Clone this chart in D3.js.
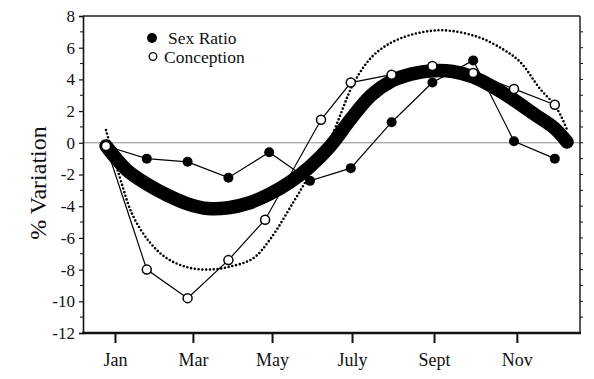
<!DOCTYPE html>
<html><head><meta charset="utf-8">
<script src="https://cdn.jsdelivr.net/npm/d3@7"></script>
<style>
html,body{margin:0;padding:0;background:#fff;}
svg{display:block;}
text{font-family:"Liberation Serif","Times New Roman",serif;fill:#111;}
</style></head>
<body>
<svg id="chart" width="594" height="379"></svg>
<script>
// ---- data ----
const months = [0,1,2,3,4,5,6,7,8,9,10,11];
const sexRatio = [-0.2,-1.0,-1.2,-2.2,-0.6,-2.4,-1.6,1.3,3.8,5.2,0.1,-1.0];
const conceptionMonths = [0,1,2,3,3.9,5.27,6,7,8,9,10,11];
const conception = [-0.2,-8.0,-9.8,-7.4,-4.85,1.45,3.8,4.3,4.85,4.4,3.4,2.4];
const fitMonths = [0,0.5,1,1.5,2,2.5,3,3.5,4,4.5,5,5.5,6,6.5,7,7.5,8,8.5,9,9.5,10,10.5,11,11.3];
const fitSexRatio = [-0.2,-1.7,-2.6,-3.3,-3.85,-4.15,-4.1,-3.8,-3.25,-2.5,-1.5,-0.2,1.5,3.0,3.9,4.35,4.55,4.5,4.15,3.5,2.7,1.8,0.9,0.05];
const fitConcMonths = [0,0.34,0.66,1.08,1.5,1.99,2.48,2.97,3.6,4.02,4.58,4.88,5.49,6.1,6.59,7.23,8.19,9.09,9.73,10.15,10.64,10.96,11.13,11.32];
const fitConception = [0.8,-2.2,-4.6,-6.3,-7.3,-7.85,-8.0,-7.85,-7.3,-6.1,-3.8,-2.5,0.2,3.9,5.6,6.6,7.1,6.7,5.9,5.1,3.4,2.5,1.8,0.7];
const tickMonths = [0.22,2.13,4.07,6.03,8.04,10.07];
const tickLabels = ["Jan","Mar","May","July","Sept","Nov"];
const yTicks = [8,6,4,2,0,-2,-4,-6,-8,-10,-12];
const legendLabels = ["Sex Ratio","Conception"];

// ---- layout ----
const L = 83, R = 580, T = 16, B = 333;
const svg = d3.select("#chart");
const x = d3.scaleLinear().domain([0,11]).range([106, 554.8]);
const y = d3.scaleLinear().domain([-12,8]).range([B, T]);

// zero line
svg.append("line").attr("x1",L).attr("x2",R).attr("y1",y(0)).attr("y2",y(0))
  .attr("stroke","#8a8a8a").attr("stroke-width",1);

// frame top & right
svg.append("line").attr("x1",L).attr("x2",R).attr("y1",T).attr("y2",T).attr("stroke","#222").attr("stroke-width",1.5);
svg.append("line").attr("x1",R).attr("x2",R).attr("y1",T).attr("y2",B).attr("stroke","#222").attr("stroke-width",1.5);

// left axis
const yAxis = d3.axisLeft(y).tickValues(yTicks).tickSize(4).tickPadding(4)
  .tickFormat(d => d < 0 ? "-" + Math.abs(d) : String(d));
const gy = svg.append("g").attr("transform",`translate(${L},0)`).call(yAxis);
gy.select(".domain").attr("stroke","#111").attr("stroke-width",1.6);
gy.selectAll(".tick line").attr("stroke","#111").attr("stroke-width",1.2);
gy.selectAll(".tick text").attr("font-size",17).attr("font-family","Liberation Serif, Times New Roman, serif").attr("fill","#111");
// minor ticks left
const minor = d3.range(-11,8,2);
svg.append("g").selectAll("line").data(minor).join("line")
  .attr("x1",L-3).attr("x2",L).attr("y1",d=>y(d)).attr("y2",d=>y(d)).attr("stroke","#111").attr("stroke-width",1);
// right ticks every unit
svg.append("g").selectAll("line").data(d3.range(-11,8,1)).join("line")
  .attr("x1",R).attr("x2",R+3).attr("y1",d=>y(d)).attr("y2",d=>y(d)).attr("stroke","#111").attr("stroke-width",1);

// bottom axis
const xAxis = d3.axisBottom(x).tickValues(tickMonths).tickSize(10).tickPadding(10)
  .tickFormat((d,i)=>tickLabels[i]);
const gx = svg.append("g").attr("transform",`translate(0,${B})`).call(xAxis);
gx.select(".domain").remove();
svg.append("line").attr("x1",L-1).attr("x2",R+1).attr("y1",B).attr("y2",B).attr("stroke","#111").attr("stroke-width",2.4);
gx.selectAll(".tick line").attr("stroke","#111").attr("stroke-width",2);
gx.selectAll(".tick text").attr("font-size",18).attr("font-family","Liberation Serif, Times New Roman, serif").attr("fill","#111");

// y title
svg.append("text").attr("transform","translate(46,183) rotate(-90)")
  .attr("text-anchor","middle").attr("font-size",24).text("% Variation");

// thick fitted sex ratio curve
const thick = d3.line().x(d=>x(d[0])).y(d=>y(d[1])).curve(d3.curveCatmullRom.alpha(0.5));
svg.append("path").attr("d",thick(fitMonths.map((m,i)=>[m,fitSexRatio[i]])))
  .attr("fill","none").attr("stroke","#000").attr("stroke-width",13.5).attr("stroke-linecap","round");

// dotted fitted conception curve
svg.append("path").attr("d",thick(fitConcMonths.map((m,i)=>[m,fitConception[i]])))
  .attr("fill","none").attr("stroke","#000").attr("stroke-width",2.6)
  .attr("stroke-dasharray","0,3.8").attr("stroke-linecap","round");

// data lines
const ln = d3.line().x(d=>x(d[0])).y(d=>y(d[1]));
const srData = months.map((m,i)=>[m,sexRatio[i]]);
const cData = conceptionMonths.map((m,i)=>[m,conception[i]]);
svg.append("path").attr("d",ln(srData)).attr("fill","none").attr("stroke","#000").attr("stroke-width",1.2);
svg.append("path").attr("d",ln(cData)).attr("fill","none").attr("stroke","#000").attr("stroke-width",1.2);

// markers
svg.append("g").selectAll("circle").data(srData).join("circle")
  .attr("cx",d=>x(d[0])).attr("cy",d=>y(d[1])).attr("r",5).attr("fill","#000");
svg.append("g").selectAll("circle").data(cData).join("circle")
  .attr("cx",d=>x(d[0])).attr("cy",d=>y(d[1])).attr("r",4.5).attr("fill","#fff")
  .attr("stroke","#000").attr("stroke-width",1.5);

// legend
svg.append("circle").attr("cx",152).attr("cy",38).attr("r",5).attr("fill","#000");
svg.append("text").attr("x",168).attr("y",43.5).attr("font-size",17.5).text(legendLabels[0]);
svg.append("circle").attr("cx",153).attr("cy",56.5).attr("r",3.8).attr("fill","#fff").attr("stroke","#000").attr("stroke-width",1.3);
svg.append("text").attr("x",164).attr("y",62.5).attr("font-size",17.5).text(legendLabels[1]);
</script>
</body></html>
